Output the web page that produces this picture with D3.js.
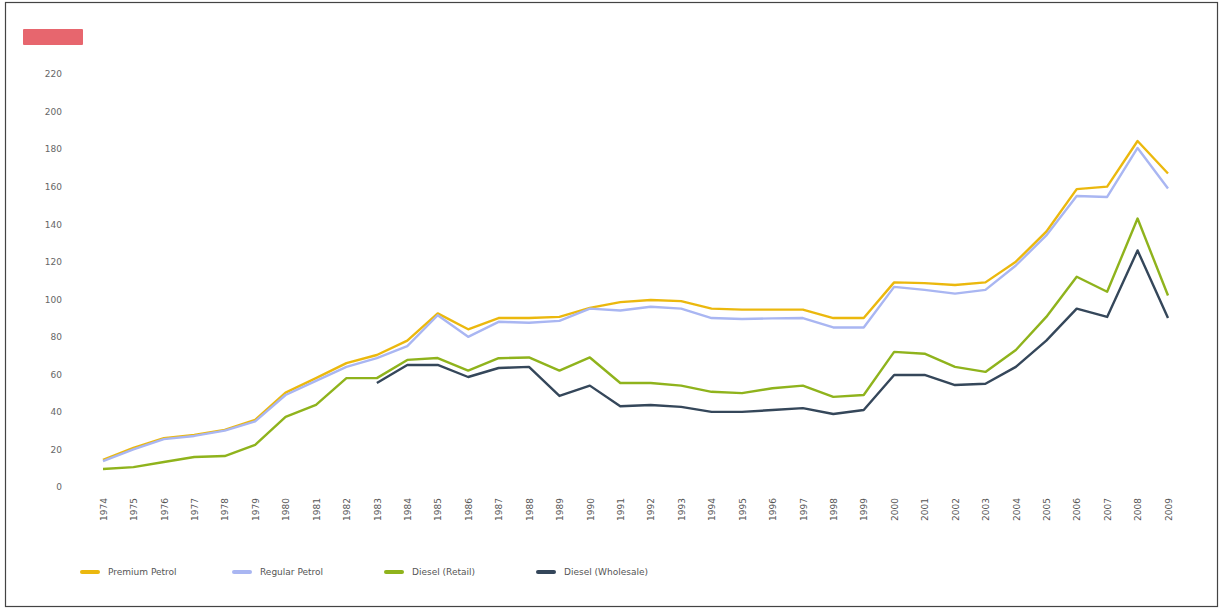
<!DOCTYPE html>
<html>
<head>
<meta charset="utf-8">
<script src="https://cdn.jsdelivr.net/npm/d3@7"></script>
<style>
  html, body { margin: 0; padding: 0; background: #fff; }
  svg { display: block; }
  text { font-family: "DejaVu Sans", "Liberation Sans", sans-serif; }
</style>
</head>
<body>
<svg id="chart" width="1221" height="609"></svg>
<script>
const years = d3.range(1974, 2010);
const yTicks = [0, 20, 40, 60, 80, 100, 120, 140, 160, 180, 200, 220];
const seriesNames = ["Premium Petrol", "Regular Petrol", "Diesel (Retail)", "Diesel (Wholesale)"];
const seriesColors = ["#ebb80e", "#a9b6f2", "#8fb31c", "#34465a"];

const premium = [14.4, 20.8, 26, 27.7, 30.4, 35.7, 50.3, 58, 66, 70.3, 78, 92.5,
  84, 90, 90, 90.6, 95.4, 98.5, 99.6, 99, 95, 94.5, 94.5, 94.5, 90, 90,
  109, 108.6, 107.6, 109, 120, 136, 158.7, 160, 184.3, 167];
const regular = [13.8, 20, 25.5, 27.2, 30, 35, 49, 56.5, 64, 68.7, 75, 91.5,
  80, 88, 87.5, 88.5, 95, 94, 96, 95, 90, 89.5, 89.8, 90, 85, 85,
  106.6, 105, 103, 105, 118, 134, 155, 154.5, 180.6, 159];
const dieselRetail = [9.6, 10.6, 13.3, 16, 16.5, 22.4, 37.3, 43.7, 58, 58, 67.7, 68.7,
  62, 68.6, 69, 62, 69, 55.4, 55.4, 54, 50.7, 50, 52.6, 54, 48, 49,
  72, 71, 64, 61.3, 73, 90.6, 112, 104, 143, 102];
const dieselWholesale = [null, null, null, null, null, null, null, null, null, 55.4, 65, 65,
  58.6, 63.4, 64, 48.5, 54, 43, 43.7, 42.7, 40, 40, 41, 42, 38.9, 41,
  59.7, 59.7, 54.3, 55, 64, 78, 95, 90.6, 126, 90];

const allSeries = [premium, regular, dieselRetail, dieselWholesale];

const svg = d3.select("#chart");

// outer frame
svg.append("rect").attr("x", 5.5).attr("y", 2.5).attr("width", 1212).attr("height", 604)
  .attr("fill", "#fff").attr("stroke", "#444").attr("stroke-width", 1.2);

// red tag top-left
svg.append("rect").attr("x", 23).attr("y", 29).attr("width", 60).attr("height", 16)
  .attr("fill", "#e7666e").attr("rx", 1);

const x = d3.scalePoint().domain(years).range([103, 1168]);
const y = d3.scaleLinear().domain([0, 220]).range([487, 74]);

// y axis
const yAxis = svg.append("g").attr("transform", "translate(70,0)")
  .call(d3.axisLeft(y).tickValues(yTicks).tickSize(0).tickPadding(8));
yAxis.select(".domain").remove();
yAxis.selectAll("text").attr("font-size", 9).attr("fill", "#666");

// x axis
const xAxis = svg.append("g").attr("transform", "translate(0,491)")
  .call(d3.axisBottom(x).tickSize(0).tickPadding(0));
xAxis.select(".domain").remove();
xAxis.selectAll("text")
  .attr("font-size", 9).attr("fill", "#555")
  .attr("transform", "rotate(-90)")
  .attr("text-anchor", "end")
  .attr("x", -7).attr("y", 0).attr("dy", "0.35em");

// lines
const line = d3.line()
  .defined(d => d.v !== null)
  .x(d => x(d.year))
  .y(d => y(d.v));

const blur = svg.append("defs").append("filter").attr("id", "soft");
blur.append("feGaussianBlur").attr("stdDeviation", 0.45);

allSeries.forEach((vals, i) => {
  const data = years.map((yr, j) => ({ year: yr, v: vals[j] }));
  svg.append("path")
    .datum(data)
    .attr("fill", "none")
    .attr("stroke", seriesColors[i])
    .attr("stroke-width", 2.4)
    .attr("stroke-linejoin", "round")
    .attr("filter", "url(#soft)")
    .attr("d", line);
});

// legend
const legend = svg.append("g").attr("transform", "translate(82,572)");
seriesNames.forEach((name, i) => {
  const g = legend.append("g").attr("transform", `translate(${i * 152},0)`);
  g.append("line").attr("x1", 0).attr("x2", 16).attr("y1", 0).attr("y2", 0)
    .attr("stroke", seriesColors[i]).attr("stroke-width", 4).attr("stroke-linecap", "round");
  g.append("text").attr("x", 26).attr("y", 0).attr("dy", "0.35em")
    .attr("font-size", 9).attr("fill", "#555").text(name);
});
</script>
</body>
</html>
